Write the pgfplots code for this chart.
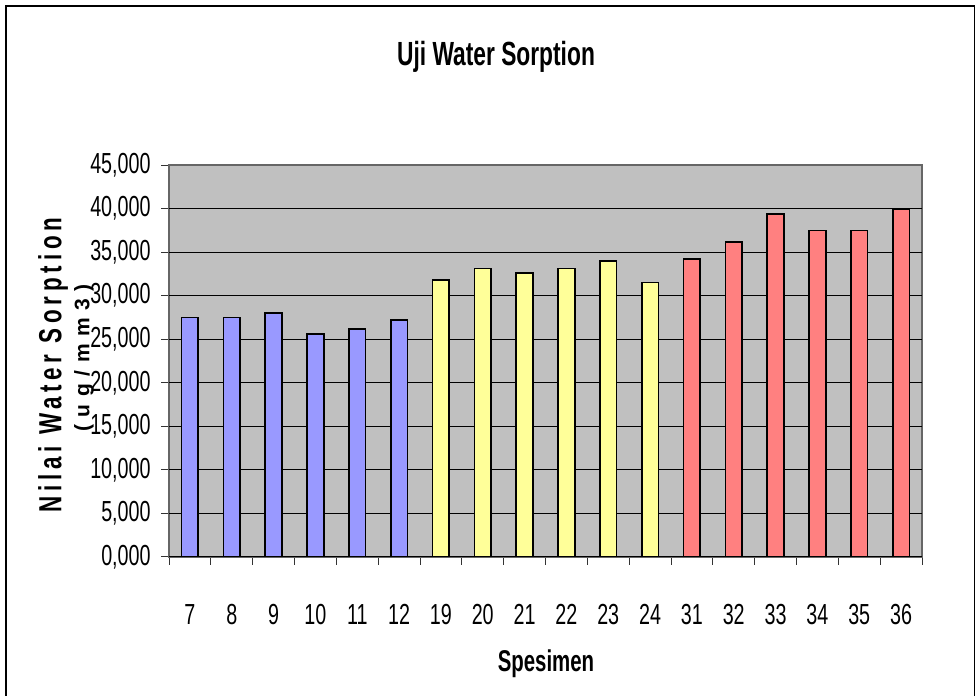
\documentclass[border=0pt]{standalone}
\usepackage{fontspec}
\setmainfont{Liberation Sans}[FakeStretch=0.68]
\newfontfamily\ylfont[LetterSpace=15, FakeStretch=0.7]{Liberation Sans}
\newfontfamily\ylfontb[LetterSpace=36]{Liberation Sans}
\usepackage{pgfplots}
\pgfplotsset{compat=1.18}
\definecolor{cblue}{HTML}{9999FF}
\definecolor{cyel}{HTML}{FFFF99}
\definecolor{cred}{HTML}{FF8080}
\definecolor{cbg}{HTML}{C0C0C0}
\begin{document}
\begin{tikzpicture}
\useasboundingbox (0,0) rectangle (488pt,348pt);
\draw[line width=0.8pt] (3pt,-5pt) -- (3pt,345pt) -- (487.2pt,345pt) -- (487.2pt,-5pt);
\begin{axis}[
  at={(84.5pt,69.5pt)}, anchor=south west,
  scale only axis, width=376.5pt, height=196pt,
  ybar, bar width=0.4, bar shift=0pt,
  xmin=-0.5, xmax=17.5, ymin=0, ymax=45,
  axis background/.style={fill=cbg},
  axis line style={draw=gray!80!black, line width=0.6pt},
  tick pos=left,
  xtick={-0.5,0.5,...,17.5},
  x tick label as interval,
  xticklabels={7,8,9,10,11,12,19,20,21,22,23,24,31,32,33,34,35,36},
  tick style={draw=gray!40!black, line width=0.5pt},
  major tick length=4pt, tick align=outside,
  xticklabel style={anchor=base, yshift=-29.8pt, font=\fontsize{14.5}{14.5}\selectfont},
  ytick={0,5,...,45},
  yticklabel style={anchor=east, inner sep=0pt, xshift=-5pt, font=\fontsize{14.5}{14.5}\selectfont},
  /pgf/number format/assume math mode=true,
  /pgf/number format/.cd, fixed, fixed zerofill, precision=3, use comma, 1000 sep={},
]
\pgfplotsinvokeforeach{0,5,...,40}{\draw[black, line width=0.5pt] (axis cs:-0.5,#1) -- (axis cs:17.5,#1);}
\addplot[fill=cblue, draw=black, line width=0.8pt] coordinates {
(0,27.50) (1,27.50) (2,28.03) (3,25.62) (4,26.16) (5,27.19)};
\addplot[fill=cyel, draw=black, line width=0.8pt] coordinates {
(6,31.83) (7,33.13) (8,32.60) (9,33.13) (10,34.00) (11,31.52)};
\addplot[fill=cred, draw=black, line width=0.8pt] coordinates {
(12,34.24) (13,36.16) (14,39.37) (15,37.46) (16,37.46) (17,39.91)};
\end{axis}
\node[anchor=base, font=\fontsize{16.75}{16.75}\selectfont\bfseries] at (248pt,315pt) {Uji Water Sorption};
\node[anchor=base, font=\fontsize{15}{15}\selectfont\bfseries] at (273pt,12.2pt) {Spesimen};
\node[rotate=90, font=\ylfont\fontsize{16}{16}\selectfont\bfseries] at (26.5pt,165.5pt) {Nilai Water Sorption};
\node[rotate=90, font=\ylfontb\fontsize{10.5}{10.5}\selectfont\bfseries] at (42pt,169pt) {(ug/mm3)};
\end{tikzpicture}
\end{document}
